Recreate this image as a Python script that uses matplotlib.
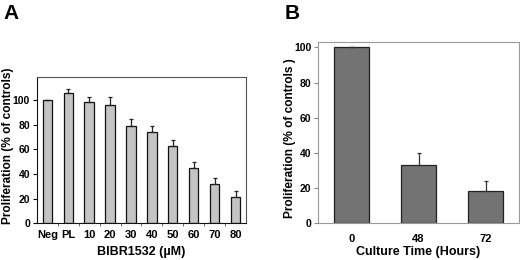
import matplotlib
matplotlib.use('Agg')
import matplotlib.pyplot as plt
import numpy as np

plt.rcParams['font.family'] = ['Liberation Sans', 'DejaVu Sans']
plt.rcParams['font.weight'] = 'bold'

# panel A
doses = ['Neg', 'PL', '10', '20', '30', '40', '50', '60', '70', '80']
prolif_a = [100, 106, 99, 96, 79, 74, 63, 45, 32, 21]
err_a = [0, 3.5, 4, 6.5, 5.5, 5, 4.5, 5, 5, 5]

# panel B
hours = ['0', '48', '72']
prolif_b = [100, 32.8, 18]
err_b = [0, 7, 5.7]

fig = plt.figure(figsize=(5.2, 2.6), dpi=100)

ax1 = fig.add_axes([0.071, 0.142, 0.402, 0.562])
x = np.arange(len(doses))
ax1.bar(x, prolif_a, width=0.45, color='#c4c4c4', edgecolor='#111111', linewidth=0.9)
ax1.errorbar(x, prolif_a, yerr=[np.zeros(len(err_a)), err_a], fmt='none',
             ecolor='#222222', elinewidth=0.9, capsize=1.7, capthick=0.9)
ax1.set_xlim(-0.5, len(doses) - 0.5)
ax1.set_ylim(0, 119)
ax1.set_yticks([0, 20, 40, 60, 80, 100])
ax1.set_xticks(x)
ax1.set_xticklabels(doses)
ax1.set_xticks(np.arange(0.5, len(doses) - 1, 1), minor=True)
ax1.tick_params(axis='x', which='major', length=0, labelsize=8, pad=5)
ax1.tick_params(axis='x', which='minor', length=2, color='#555555')
ax1.tick_params(axis='y', length=3, labelsize=7.5, pad=2)
for s in ['left', 'bottom']:
    ax1.spines[s].set_color('#111111')
for s in ['top', 'right']:
    ax1.spines[s].set_color('#555555')
ax1.set_xlabel('BIBR1532 (µM)', fontsize=9, fontweight='bold', labelpad=4)
ax1.set_ylabel('Proliferation (% of controls)', fontsize=8.6, fontweight='bold')
ax1.yaxis.set_label_coords(-0.108, 0.53)

ax2 = fig.add_axes([0.612, 0.142, 0.386, 0.696])
xb = np.arange(len(hours))
ax2.bar(xb, prolif_b, width=0.52, color='#737373', edgecolor='#222222', linewidth=0.9)
ax2.errorbar(xb, prolif_b, yerr=[np.zeros(len(err_b)), err_b], fmt='none',
             ecolor='#333333', elinewidth=0.9, capsize=1.7, capthick=0.9)
ax2.set_xlim(-0.5, 2.5)
ax2.set_ylim(0, 103)
ax2.set_yticks([0, 20, 40, 60, 80, 100])
ax2.set_xticks(xb)
ax2.set_xticklabels(hours)
ax2.tick_params(axis='x', length=0, labelsize=8, pad=8)
ax2.tick_params(axis='y', length=3, labelsize=7.5, pad=2, color='#888888')
for s in ax2.spines.values():
    s.set_color('#9a9a9a')
ax2.set_xlabel('Culture Time (Hours)', fontsize=9, fontweight='bold', labelpad=1)
ax2.set_ylabel('Proliferation (% of controls )', fontsize=8.6, fontweight='bold')
ax2.yaxis.set_label_coords(-0.11, 0.467)

fig.text(0.006, 0.985, 'A', fontsize=15, fontweight='bold', va='top')
fig.text(0.548, 0.985, 'B', fontsize=15, fontweight='bold', va='top')

fig.savefig('out.png', dpi=100)
